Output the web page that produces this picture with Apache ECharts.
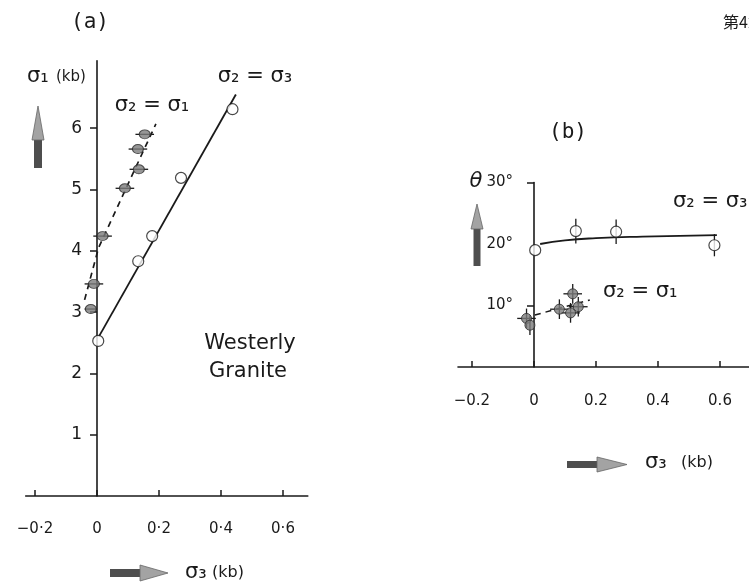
<!DOCTYPE html>
<html lang="ja">
<head>
  <meta charset="UTF-8">
  <title>Westerly Granite</title>
  <style>
    html, body { margin: 0; padding: 0; background: #fff; }
    #main { width: 749px; height: 583px; }
  </style>
</head>
<body>
  <div id="main"></div>
</body>
<script src="https://cdn.jsdelivr.net/npm/echarts@6/dist/echarts.min.js"></script>
<script>
  const myChart = echarts.init(document.getElementById('main'));

  // (a) σ1 against σ3
  // σ2 = σ1 (filled points, horizontal error bars)
  const aFilledX = [-0.02, -0.01, 0.018, 0.09, 0.135, 0.132, 0.154];
  const aFilledY = [3.05, 3.46, 4.24, 5.02, 5.33, 5.66, 5.90];
  const aFilledXErr = [0.02, 0.03, 0.03, 0.03, 0.03, 0.03, 0.03];
  const aDashX = [-0.04, 0.005, 0.19];
  const aDashY = [3.2, 4.05, 6.07];
  // σ2 = σ3 (open circles)
  const aOpenX = [0.004, 0.133, 0.178, 0.271, 0.437];
  const aOpenY = [2.53, 3.83, 4.24, 5.19, 6.31];
  const aLineX = [0.006, 0.448];
  const aLineY = [2.6, 6.55];
  const aXTicks = [-0.2, 0, 0.2, 0.4, 0.6];
  const aYTicks = [1, 2, 3, 4, 5, 6];

  // (b) θ against σ3
  const bOpenX = [0.004, 0.135, 0.265, 0.582];
  const bOpenY = [19.0, 22.1, 22.0, 19.8];
  const bOpenYErr = [0, 2, 2, 1.8];
  const bLineX = [0.02, 0.1, 0.2, 0.35, 0.59];
  const bLineY = [20.0, 20.6, 20.95, 21.2, 21.45];
  const bFilledX = [-0.024, -0.013, 0.082, 0.125, 0.118, 0.143];
  const bFilledY = [7.9, 6.8, 9.4, 11.9, 8.8, 9.8];
  const bFilledXErr = [0.03, 0.0, 0.03, 0.03, 0.03, 0.03];
  const bFilledYErr = [1.6, 1.6, 1.6, 1.6, 1.6, 1.6];
  const bDashX = [0.003, 0.18];
  const bDashY = [8.45, 10.9];
  const bXTicks = [-0.2, 0, 0.2, 0.4, 0.6];
  const bYTickMarks = [10, 30];
  const bYLabels = [10, 20, 30];

  const ink = '#1a1a1a';
  const font = 'DejaVu Sans';

  const zip = (xs, ys) => xs.map((x, i) => [x, ys[i]]);

  function fmtA(v) {
    if (v === 0) return '0';
    return (v < 0 ? '\u2212' : '') + Math.abs(v).toFixed(1).replace('.', '\u00b7');
  }
  function fmtB(v) {
    if (v === 0) return '0';
    return (v < 0 ? '\u2212' : '') + Math.abs(v).toFixed(1);
  }

  function errorBars(params, api) {
    const x = api.value(0), y = api.value(1);
    const ex = api.value(2), ey = api.value(3);
    const style = { stroke: ink, lineWidth: 1.3, fill: null };
    const children = [];
    if (ex > 0) {
      const p1 = api.coord([x - ex, y]), p2 = api.coord([x + ex, y]);
      children.push({ type: 'line', shape: { x1: p1[0], y1: p1[1], x2: p2[0], y2: p2[1] }, style });
    }
    if (ey > 0) {
      const p1 = api.coord([x, y - ey]), p2 = api.coord([x, y + ey]);
      children.push({ type: 'line', shape: { x1: p1[0], y1: p1[1], x2: p2[0], y2: p2[1] }, style });
    }
    return { type: 'group', children };
  }

  function xAxisOf(grid, min, max, ticks, fmt, margin) {
    return {
      type: 'value', gridIndex: grid, min, max,
      axisLine: { onZero: false, lineStyle: { color: ink, width: 1.6 } },
      axisTick: { inside: true, length: 6, customValues: ticks, lineStyle: { color: ink, width: 1.5 } },
      axisLabel: { customValues: ticks, formatter: fmt, margin, color: ink, fontSize: 15, fontFamily: font },
      splitLine: { show: false }
    };
  }

  const circleOpen = { color: '#fff', borderColor: ink, borderWidth: 1.2 };
  const circleFilled = { color: '#7c7c7c', borderColor: '#2a2a2a', borderWidth: 1 };

  function txt(x, y, text, size, extra) {
    return {
      type: 'text', x, y, silent: true,
      style: Object.assign({ text, fill: ink, font: size + 'px "' + font + '"', textVerticalAlign: 'middle' }, extra || {})
    };
  }

  // grid boxes; the y axes are shifted right onto x = 0
  const gridA = { left: 25.7, top: 60.8, width: 282.1, height: 435.2 };
  const gridB = { left: 458, top: 182.5, width: 293, height: 184.5 };
  const aXMin = -0.23, aXMax = 0.68, bXMin = -0.245, bXMax = 0.70;
  const aZeroShift = -aXMin / (aXMax - aXMin) * gridA.width;
  const bZeroShift = -bXMin / (bXMax - bXMin) * gridB.width;

  myChart.setOption({
    animation: false,
    backgroundColor: '#fff',
    grid: [
      Object.assign({ outerBoundsMode: 'none' }, gridA),
      Object.assign({ outerBoundsMode: 'none' }, gridB)
    ],
    xAxis: [
      xAxisOf(0, aXMin, aXMax, aXTicks, fmtA, 26),
      xAxisOf(1, bXMin, bXMax, bXTicks, fmtB, 27)
    ],
    yAxis: [
      {
        type: 'value', gridIndex: 0, min: 0, max: 7.1, position: 'left', offset: -aZeroShift,
        axisLine: { onZero: false, lineStyle: { color: ink, width: 1.6 } },
        axisTick: { length: 7, customValues: aYTicks, lineStyle: { color: ink, width: 1.5 } },
        axisLabel: { customValues: aYTicks, margin: 15, color: ink, fontSize: 17, fontFamily: font },
        splitLine: { show: false }
      },
      {
        type: 'value', gridIndex: 1, min: 0, max: 30, position: 'left', offset: -bZeroShift,
        axisLine: { onZero: false, lineStyle: { color: ink, width: 1.6 } },
        axisTick: { length: 7, customValues: bYTickMarks, lineStyle: { color: ink, width: 1.5 } },
        axisLabel: { customValues: bYLabels, formatter: v => v + '\u00b0', margin: 21, color: ink, fontSize: 15, fontFamily: font },
        splitLine: { show: false }
      }
    ],
    series: [
      // panel (a)
      {
        type: 'line', xAxisIndex: 0, yAxisIndex: 0, data: zip(aDashX, aDashY), symbol: 'none', z: 2,
        lineStyle: { color: ink, width: 1.7, type: [6, 5] }
      },
      {
        type: 'line', xAxisIndex: 0, yAxisIndex: 0, data: zip(aLineX, aLineY), symbol: 'none', z: 2,
        lineStyle: { color: ink, width: 1.8 }
      },
      {
        type: 'custom', xAxisIndex: 0, yAxisIndex: 0, renderItem: errorBars, z: 3,
        encode: { x: 0, y: 1 },
        data: aFilledX.map((x, i) => [x, aFilledY[i], aFilledXErr[i], 0])
      },
      {
        type: 'scatter', xAxisIndex: 0, yAxisIndex: 0, data: zip(aFilledX, aFilledY), z: 4,
        symbolSize: [11, 9], itemStyle: circleFilled
      },
      {
        type: 'scatter', xAxisIndex: 0, yAxisIndex: 0, data: zip(aOpenX, aOpenY), z: 4,
        symbolSize: 11, itemStyle: circleOpen
      },
      // panel (b)
      {
        type: 'line', xAxisIndex: 1, yAxisIndex: 1, data: zip(bLineX, bLineY), symbol: 'none', smooth: true, z: 2,
        lineStyle: { color: ink, width: 1.8 }
      },
      {
        type: 'line', xAxisIndex: 1, yAxisIndex: 1, data: zip(bDashX, bDashY), symbol: 'none', z: 2,
        lineStyle: { color: ink, width: 1.5, type: [6, 5] }
      },
      {
        type: 'custom', xAxisIndex: 1, yAxisIndex: 1, renderItem: errorBars, z: 3,
        encode: { x: 0, y: 1 },
        data: bOpenX.map((x, i) => [x, bOpenY[i], 0, bOpenYErr[i]])
      },
      {
        type: 'custom', xAxisIndex: 1, yAxisIndex: 1, renderItem: errorBars, z: 3,
        encode: { x: 0, y: 1 },
        data: bFilledX.map((x, i) => [x, bFilledY[i], bFilledXErr[i], bFilledYErr[i]])
      },
      {
        type: 'scatter', xAxisIndex: 1, yAxisIndex: 1, data: zip(bFilledX, bFilledY), z: 4,
        symbolSize: 10, itemStyle: circleFilled
      },
      {
        type: 'scatter', xAxisIndex: 1, yAxisIndex: 1, data: zip(bOpenX, bOpenY), z: 4,
        symbolSize: 11, itemStyle: circleOpen
      }
    ],
    graphic: [
      // arrows
      { type: 'rect', shape: { x: 34, y: 138, width: 8, height: 30 }, style: { fill: '#4e4e4e' }, silent: true },
      { type: 'polygon', shape: { points: [[32, 140], [38, 106], [44, 140]] }, style: { fill: '#a3a3a3', stroke: '#666', lineWidth: 0.8 }, silent: true },
      { type: 'rect', shape: { x: 110, y: 569, width: 32, height: 8 }, style: { fill: '#4e4e4e' }, silent: true },
      { type: 'polygon', shape: { points: [[140, 565], [168, 573], [140, 581]] }, style: { fill: '#a3a3a3', stroke: '#666', lineWidth: 0.8 }, silent: true },
      { type: 'rect', shape: { x: 473.5, y: 227, width: 7, height: 39 }, style: { fill: '#4e4e4e' }, silent: true },
      { type: 'polygon', shape: { points: [[471, 229], [477, 204], [483, 229]] }, style: { fill: '#a3a3a3', stroke: '#666', lineWidth: 0.8 }, silent: true },
      { type: 'rect', shape: { x: 567, y: 461, width: 32, height: 7 }, style: { fill: '#4e4e4e' }, silent: true },
      { type: 'polygon', shape: { points: [[597, 457], [627, 464.5], [597, 472]] }, style: { fill: '#a3a3a3', stroke: '#666', lineWidth: 0.8 }, silent: true },
      // texts
      txt(90, 23, '(a)', 21, { textAlign: 'center', font: '21px "DejaVu Sans Mono"' }),
      txt(568, 133, '(b)', 21, { textAlign: 'center', font: '21px "DejaVu Sans Mono"' }),
      txt(723, 22, '第4章', 16, { font: '16px "Noto Sans CJK JP"' }),
      txt(27, 77, 'σ\u2081', 21),
      txt(56, 77, '(kb)', 15),
      txt(152, 106, 'σ\u2082 = σ\u2081', 21, { textAlign: 'center' }),
      txt(255, 77, 'σ\u2082 = σ\u2083', 21, { textAlign: 'center' }),
      txt(250, 344, 'Westerly', 21, { textAlign: 'center' }),
      txt(248, 372, 'Granite', 21, { textAlign: 'center' }),
      txt(185, 573, 'σ\u2083', 21),
      txt(212, 573, '(kb)', 16),
      txt(476, 182, 'θ', 21, { textAlign: 'center', font: 'italic 21px "' + font + '"' }),
      txt(673, 202, 'σ\u2082 = σ\u2083', 21),
      txt(603, 292, 'σ\u2082 = σ\u2081', 21),
      txt(645, 463, 'σ\u2083', 21),
      txt(681, 463, '(kb)', 16)
    ]
  });
</script>
</html>
